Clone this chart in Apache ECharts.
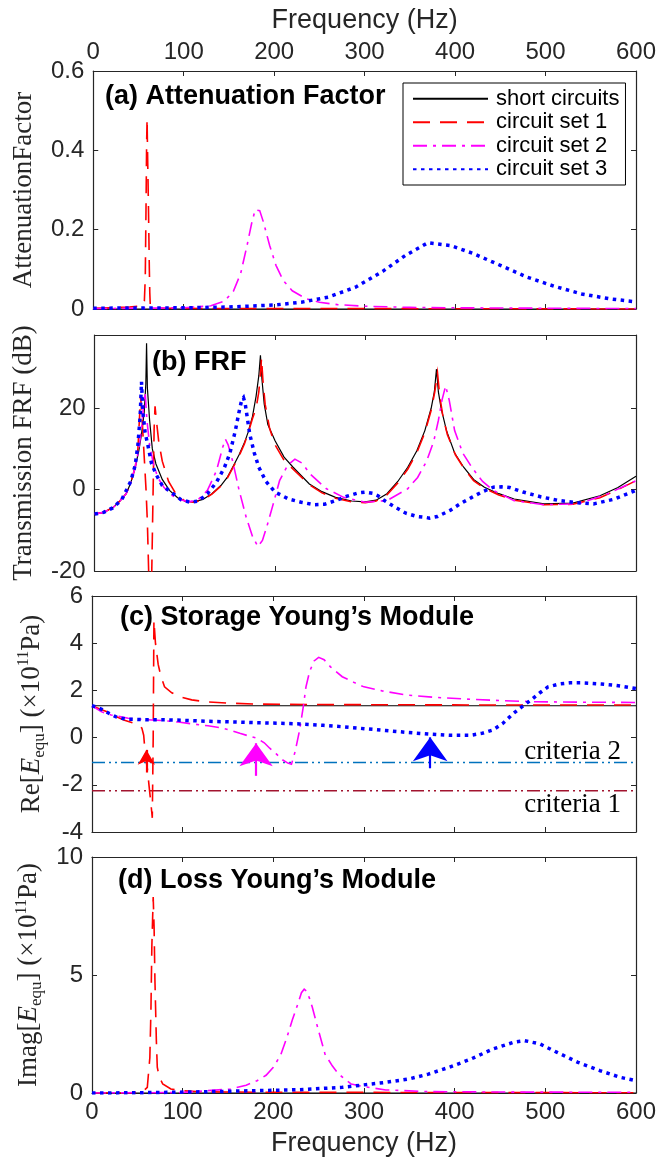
<!DOCTYPE html>
<html><head><meta charset="utf-8">
<script src="https://cdn.jsdelivr.net/npm/echarts@6/dist/echarts.min.js"></script>
<style>html,body{margin:0;padding:0;background:#fff}#c{width:672px;height:1158px}</style>
</head><body><div id="c"></div>
<script>
// ---------- data ----------
const seriesNames = ['short circuits', 'circuit set 1', 'circuit set 2', 'circuit set 3'];
const freqTicks = [0, 100, 200, 300, 400, 500, 600];
const yTicksA = [0, 0.2, 0.4, 0.6];
const yTicksB = [-20, 0, 20];
const yMaxB = 38;
const yTicksC = [-4, -2, 0, 2, 4, 6];
const yTicksD = [0, 5, 10];

// (a) attenuation factor
const aF0 = [0, 600];
const aY0 = [0, 0];
const aF1 = [0, 20, 40, 50, 55, 56.5, 57.5, 58.3, 59, 59.5, 60, 60.5, 61, 61.5, 62, 62.5, 63, 66, 80, 150, 300, 600];
const aY1 = [0.002, 0.003, 0.005, 0.007, 0.01, 0.02, 0.08, 0.25, 0.42, 0.48, 0.40, 0.33, 0.26, 0.18, 0.1, 0.04, 0.012, 0.004, 0.002, 0.001, 0.001, 0];
const aF2 = [0, 50, 100, 130, 145, 155, 163, 170, 175, 179, 181, 184, 188, 195, 202, 210, 220, 235, 250, 270, 300, 350, 400, 500, 600];
const aY2 = [0.001, 0.002, 0.003, 0.008, 0.02, 0.045, 0.09, 0.16, 0.215, 0.25, 0.255, 0.248, 0.22, 0.16, 0.11, 0.072, 0.046, 0.026, 0.017, 0.011, 0.007, 0.004, 0.003, 0.002, 0.001];
const aF3 = [0, 100, 150, 200, 230, 260, 290, 320, 345, 370, 395, 420, 450, 480, 510, 540, 570, 600];
const aY3 = [0.002, 0.003, 0.005, 0.01, 0.017, 0.03, 0.055, 0.095, 0.135, 0.167, 0.16, 0.14, 0.11, 0.08, 0.057, 0.038, 0.026, 0.018];

// (b) transmission FRF (dB)
const bF0 = [0,10,21,28,35,40,45,49,52,55,56.8,57.6,58.5,61,64,68,75,83,92,101,110,120,130,140,147,153,160,166,170,175,179,182,183.8,185.5,188,192,200,210,220,238,252,267,285,300,312,324,336,347,357,366,373,376.5,378.9,381,384,390,399,409,420,432,448,465,498,530,560,580,600];
const bY0 = [-6,-5.6,-4.3,-2.8,-1,1.6,5.5,9.5,13.6,19,26,36,25,17,10,6.3,2.5,-0.2,-2,-2.9,-3,-2.4,-1,1,3,5.5,8.5,11.5,14,18,23,28,33,27,21,16,12,8,5.5,1.4,-0.5,-1.9,-2.8,-3,-2.6,-1,2,5.5,9.5,14.5,20,24,29.6,24,20,14.5,9,5.5,2.5,0.6,-1,-2.3,-3.5,-3.3,-1.5,0.5,3.3];
const bF1 = [0,10,21,28,35,40,45,48,51,53,55,57,58.5,60.5,63,64.5,66,67,68.5,71,75,82,90,100,110,120,130,140,147,153,160,166,170,175,179,182,184,185,186.5,189,194,200,210,220,238,252,267,285,300,312,324,336,347,357,366,373,377,380,382.5,386,391,400,410,420,432,448,465,498,530,560,580,600];
const bY1 = [-6,-5.6,-4.3,-2.8,-1,1.6,5.5,10,23,16,8,0,-8,-25,-25,-5,15,20.5,17,12,7,2,-1,-2.8,-3.1,-2.5,-1.1,0.9,2.8,5.3,8.2,11.2,13.8,17.5,20,24,29,32.4,27,21,15,11,7.2,5,1.2,-0.8,-2.1,-3,-3.2,-2.8,-1.3,1.6,5,9,14,19.5,24,28.7,23,18,13.5,8.5,5,2.2,0.3,-1.3,-2.6,-3.7,-3.6,-2,0,2.2];
const bF2 = [0,10,21,28,35,40,45,49,52,54,56,58,61,65,70,77,85,95,105,115,125,135,142,145,148,153,160,168,175,181,186,191,198,205,214,222,230,239,257,276,300,324,347,358,368,376,381,385,389,393,399,408,418,430,442,465,498,536,569,600];
const bY2 = [-6,-5.6,-4.3,-2.8,-1,1.6,5.5,10,15,20,24,17,11,6.5,3,0.5,-1.3,-2.5,-3,-2.4,-0.2,4.6,10.4,12.4,11,7,0,-6.8,-11.5,-14,-12.5,-9,-3.5,2.2,6,7.5,6.5,3.8,0.2,-1.9,-3.1,-2.7,0.2,3,7,12,17,22,25.5,22,14.5,9,5.5,2,-0.2,-2.7,-3.7,-3.5,-1,2.2];
const bF3 = [0,10,20,30,40,45,48,50.5,52,53.5,56,59,63,68,75,87,96,106,115,125,135,144,150,156,160,163,165,167,170,172,177,182,190,200,215,229,243,255,267,280,292,300,308,314,322,333,345,357,366,371,380,394,405,418,430,442,451,460,475,495,515,535,553,575,600];
const bY3 = [-6,-5.6,-4.5,-2.5,2,6,11,18,26.5,19,14,11,6.5,3.8,1,-1,-2.5,-3.1,-2.8,-1,1.8,5.5,9,14.5,19,22,22.6,21,16.5,13.6,9,5.5,2,-0.6,-2.3,-3.1,-3.7,-3.6,-2.7,-1.6,-0.8,-0.6,-0.9,-1.5,-2.8,-4.3,-5.8,-6.6,-6.8,-7,-6.6,-5.1,-3.5,-1.9,-0.5,0.6,0.7,0.5,-0.6,-1.8,-2.7,-3.2,-3.5,-2.4,-0.2];

// (c) storage Young's modulus (x1e11 Pa)
const cF0 = [0, 600];
const cY0 = [1.35, 1.35];
const cF1 = [0,8,16.5,25,35,45,52,55,57,59,61,63,65,66.5,67.5,68.3,70,73,76,80,88,97,110,125,150,182,250,350,450,600];
const cY1 = [1.35,1.22,1.1,0.92,0.75,0.62,0.54,0.4,0.1,-0.8,-1.3,-2.07,-2.8,-3.4,0,4.97,4.0,3.1,2.6,2.15,1.9,1.73,1.6,1.52,1.46,1.42,1.4,1.39,1.38,1.38];
const cF2 = [0,10,21,40,60,78,95,111,128,144,155,163,172,182,190,196,203,210,216,220,224,229,233,236,240,245,250,256,263,276,290,300,320,347,380,418,450,489,540,600];
const cY2 = [1.35,1.1,0.96,0.82,0.76,0.72,0.66,0.58,0.5,0.4,0.28,0.18,0.08,-0.03,-0.22,-0.45,-0.68,-0.94,-1.08,-1.13,-0.6,0.32,1.3,2.15,2.8,3.25,3.4,3.3,3.0,2.58,2.32,2.15,1.98,1.8,1.7,1.62,1.57,1.52,1.5,1.49];
const cF3 = [0,6,12,19,26,33,40,60,87,110,135,160,182,205,229,255,276,300,324,348,371,394,418,430,442,453,465,474,484,494,503,515,527,540,550,562,574,587,600];
const cY3 = [1.35,1.28,1.17,1.02,0.89,0.82,0.78,0.76,0.75,0.72,0.68,0.66,0.63,0.61,0.58,0.52,0.46,0.38,0.3,0.22,0.15,0.1,0.1,0.18,0.32,0.6,1.03,1.3,1.59,1.9,2.15,2.27,2.32,2.32,2.3,2.27,2.23,2.16,2.08];
const criteriaNames = ['criteria 2', 'criteria 1'];
const criteriaValues = [-1.05, -2.25];
const arrowFreq = [60, 181, 373];
const arrowTail = [-1.48, -1.62, -1.3];
const arrowTip = [-0.52, -0.24, 0.01];

// (d) loss Young's modulus (x1e11 Pa)
const dF0 = [0, 600];
const dY0 = [0, 0];
const dF1 = [0,30,55,61,63.8,65,66,67.5,68.5,69.4,71,72,74,78,87,97,120,200,400,600];
const dY1 = [0,0,0.02,0.24,1.5,3.5,6.2,8.3,7.0,4.8,2.2,1.1,0.7,0.38,0.17,0.1,0.05,0.03,0.02,0.01];
const dF2 = [0,100,153,170,182,192,200,208,215,221,227,231,234,237,240,243,248,257,265,272,286,300,324,371,450,600];
const dY2 = [0,0.02,0.17,0.33,0.52,0.75,1.09,1.6,2.36,3.1,3.77,4.25,4.4,4.3,4.0,3.63,2.9,1.65,1.15,0.8,0.38,0.27,0.13,0.06,0.04,0.03];
const dF3 = [0,50,87,135,182,229,276,324,350,371,394,418,442,465,477,494,513,536,560,583,600];
const dY3 = [0,0.01,0.03,0.06,0.1,0.14,0.24,0.45,0.6,0.8,1.09,1.44,1.86,2.15,2.22,2.08,1.72,1.3,0.95,0.66,0.52];

// ---------- build ----------
const pairs = (xs, ys) => xs.map((x, i) => [x, ys[i]]);
const axisColor = '#262626';
const sansFont = 'Liberation Sans, Arial, sans-serif';
const serifFont = 'Liberation Serif, Times New Roman, serif';
const lineStyles = [
  { color: '#000000', width: 1.2, type: 'solid' },
  { color: '#FF0000', width: 1.6, type: [17, 10] },
  { color: '#FF00FF', width: 1.6, type: [14, 6, 3, 6] },
  { color: '#0000FF', width: 3.5, type: [3.5, 4.5] }
];
const panels = [
  { f: [aF0, aF1, aF2, aF3], y: [aY0, aY1, aY2, aY3], ticks: yTicksA, max: 0.6, interval: 0.2 },
  { f: [bF0, bF1, bF2, bF3], y: [bY0, bY1, bY2, bY3], ticks: yTicksB, max: yMaxB, interval: 20 },
  { f: [cF0, cF1, cF2, cF3], y: [cY0, cY1, cY2, cY3], ticks: yTicksC, max: 6, interval: 2 },
  { f: [dF0, dF1, dF2, dF3], y: [dY0, dY1, dY2, dY3], ticks: yTicksD, max: 10, interval: 5 }
];
const gridTops = [71, 335, 596, 857];
const gridH = [238, 236, 236, 236];

const subRich = {
  n: { fontSize: 27, fontFamily: serifFont, color: axisColor, lineHeight: 32, verticalAlign: 'middle' },
  i: { fontSize: 27, fontFamily: serifFont, fontStyle: 'italic', color: axisColor, lineHeight: 32, verticalAlign: 'middle' },
  s: { fontSize: 17, fontFamily: serifFont, color: axisColor, lineHeight: 16, verticalAlign: 'bottom' },
  p: { fontSize: 16, fontFamily: serifFont, color: axisColor, lineHeight: 16, verticalAlign: 'top' }
};
const yNames = [
  'AttenuationFactor',
  'Transmission FRF (dB)',
  '{n|Re[}{i|E}{s|equ}{n|] (×10}{p|11}{n|Pa)}',
  '{n|Imag[}{i|E}{s|equ}{n|] (×10}{p|11}{n|Pa)}'
];

const grid = [], xAxis = [], yAxis = [], series = [];
const axisLine = { show: true, onZero: false, lineStyle: { color: axisColor, width: 1.2 } };
const axisTick = { show: true, inside: true, length: 5, lineStyle: { color: axisColor, width: 1 } };
const labelStyle = { color: axisColor, fontSize: 24, fontFamily: sansFont };

panels.forEach((p, gi) => {
  grid.push({ left: 92, width: 544, top: gridTops[gi], height: gridH[gi], containLabel: false });
  ['bottom', 'top'].forEach(pos => {
    const showLab = (gi === 3 && pos === 'bottom') || (gi === 0 && pos === 'top');
    xAxis.push({
      type: 'value', gridIndex: gi, position: pos, min: freqTicks[0], max: freqTicks[freqTicks.length - 1],
      interval: freqTicks[1] - freqTicks[0],
      axisLine, axisTick, splitLine: { show: false },
      axisLabel: Object.assign({ show: showLab, margin: 7 }, labelStyle),
      name: showLab ? 'Frequency (Hz)' : '', nameLocation: 'middle', nameGap: 37,
      nameTextStyle: { color: axisColor, fontSize: 27, fontFamily: sansFont }
    });
  });
  ['left', 'right'].forEach(pos => {
    const left = pos === 'left';
    yAxis.push({
      type: 'value', gridIndex: gi, position: pos, min: p.ticks[0], max: p.max, interval: p.interval,
      axisLine, axisTick, splitLine: { show: false },
      axisLabel: Object.assign({
        show: left, margin: 9,
        formatter: v => p.ticks.some(t => Math.abs(t - v) < 1e-9) ? String(+v.toFixed(4)) : ''
      }, labelStyle),
      name: left ? yNames[gi] : '', nameLocation: 'middle', nameRotate: 90, nameGap: 44,
      nameTextStyle: { color: axisColor, fontSize: 27, fontFamily: serifFont, lineHeight: 32, rich: subRich }
    });
  });
  p.f.forEach((fx, k) => {
    series.push({
      name: seriesNames[k], type: 'line', xAxisIndex: gi * 2, yAxisIndex: gi * 2,
      data: pairs(fx, p.y[k]), symbol: 'none', showSymbol: false, silent: true, z: 2 + k,
      lineStyle: Object.assign({ cap: 'butt', join: 'miter' }, lineStyles[k]),
      itemStyle: { color: lineStyles[k].color }
    });
  });
});

// criteria lines (panel c)
const critColors = ['#0072BD', '#A2142F'];
criteriaValues.forEach((v, i) => {
  series.push({
    name: criteriaNames[i], type: 'line', xAxisIndex: 4, yAxisIndex: 4,
    data: pairs(cF0, [v, v]), symbol: 'none', silent: true, z: 1,
    lineStyle: { color: critColors[i], width: 1.5, type: [13, 4, 2, 4, 2, 4] }
  });
});
// arrows (panel c)
const arrowColors = ['#FF0000', '#FF00FF', '#0000FF'];
const arrowHead = [[13, 15], [25, 23], [26, 24]];
series.push({
  name: 'arrows', type: 'line', xAxisIndex: 4, yAxisIndex: 4, data: [], symbol: 'none', silent: true, z: 10,
  markLine: {
    silent: true, animation: false, label: { show: false },
    data: arrowFreq.map((f, i) => [
      { coord: [f, arrowTail[i]], symbol: 'none', lineStyle: { color: arrowColors[i], width: 2.2, type: 'solid' } },
      { coord: [f, arrowTip[i]], symbol: 'arrow', symbolSize: arrowHead[i] }
    ])
  }
});

const titleStyle = { color: '#000', fontSize: 27, fontWeight: 'bold', fontFamily: sansFont, lineHeight: 30 };
const option = {
  animation: false,
  backgroundColor: '#fff',
  grid, xAxis, yAxis, series,
  title: [
    { text: '(a) Attenuation Factor', left: 105, top: 82 },
    { text: '(b) FRF', left: 152, top: 348 },
    { text: '(c) Storage Young’s Module', left: 120, top: 603 },
    { text: '(d) Loss Young’s Module', left: 118, top: 866 }
  ].map(t => Object.assign(t, { padding: 0, textStyle: titleStyle })),
  legend: {
    data: seriesNames, orient: 'vertical', left: 403, top: 83,
    padding: [4, 6, 4, 9], itemWidth: 75, itemHeight: 14, itemGap: 0,
    itemStyle: { opacity: 0, borderWidth: 0 },
    backgroundColor: '#fff', borderColor: '#000', borderWidth: 1, borderRadius: 0,
    textStyle: { color: '#000', fontSize: 22, fontFamily: sansFont, lineHeight: 23.5, padding: [0, 0, 0, 3] },
    selectedMode: false
  },
  graphic: [
    { type: 'text', x: 621, y: 752, silent: true,
      style: { text: criteriaNames[0], align: 'right', verticalAlign: 'middle', fontSize: 27, fontFamily: serifFont, fill: '#000' } },
    { type: 'text', x: 621, y: 805, silent: true,
      style: { text: criteriaNames[1], align: 'right', verticalAlign: 'middle', fontSize: 27, fontFamily: serifFont, fill: '#000' } }
  ]
};
const chart = echarts.init(document.getElementById('c'), null, { renderer: 'canvas' });
chart.setOption(option);
</script></body></html>
